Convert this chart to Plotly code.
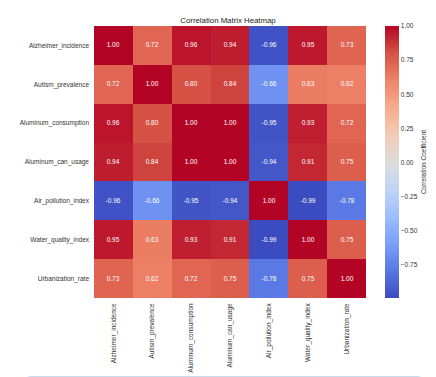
import plotly.graph_objects as go

labels = ["Alzheimer_incidence", "Autism_prevalence", "Aluminum_consumption",
          "Aluminum_can_usage", "Air_pollution_index", "Water_quality_index",
          "Urbanization_rate"]

corr = [
    [1.00, 0.72, 0.96, 0.94, -0.96, 0.95, 0.73],
    [0.72, 1.00, 0.80, 0.84, -0.66, 0.63, 0.62],
    [0.96, 0.80, 1.00, 1.00, -0.95, 0.93, 0.72],
    [0.94, 0.84, 1.00, 1.00, -0.94, 0.91, 0.75],
    [-0.96, -0.66, -0.95, -0.94, 1.00, -0.99, -0.78],
    [0.95, 0.63, 0.93, 0.91, -0.99, 1.00, 0.75],
    [0.73, 0.62, 0.72, 0.75, -0.78, 0.75, 1.00],
]

cbar_ticks = [-0.75, -0.50, -0.25, 0.00, 0.25, 0.50, 0.75, 1.00]
cbar_text = ["\u22120.75", "\u22120.50", "\u22120.25", "0.00", "0.25", "0.50", "0.75", "1.00"]

coolwarm = [
    [0.0, "#3b4cc0"], [0.1, "#5977e3"], [0.2, "#7b9ff9"], [0.3, "#9ebeff"],
    [0.4, "#c0d4f5"], [0.5, "#dddcdc"], [0.6, "#f2cbb7"], [0.7, "#f7ac8e"],
    [0.8, "#ee8468"], [0.9, "#d65244"], [1.0, "#b40426"],
]

FONT = "Liberation Sans, Arial, sans-serif"

fig = go.Figure(go.Heatmap(
    z=corr, x=labels, y=labels,
    zmin=-0.99, zmax=1.0,
    colorscale=coolwarm,
    texttemplate="%{z:.2f}",
    textfont=dict(color="white", size=6.5, family=FONT),
    hoverinfo="skip",
    colorbar=dict(
        x=(377 - 82) / 276, xanchor="left", xpad=0,
        y=0.5, yanchor="middle", len=1, lenmode="fraction", ypad=0,
        thickness=14, outlinewidth=0,
        tickvals=cbar_ticks, ticktext=cbar_text, ticks="",
        tickfont=dict(size=6.5, color="#333333", family=FONT),
        title=dict(text="Correlation Coefficient", side="right",
                   font=dict(size=6.5, color="#333333", family=FONT)),
    ),
))

fig.update_layout(
    width=436, height=377,
    margin=dict(l=82, r=78, t=18, b=82),
    paper_bgcolor="white", plot_bgcolor="white",
    title=dict(text="Correlation Matrix Heatmap", x=(82 + 358) / 2 / 436, xanchor="center",
               y=1 - 12 / 377, yanchor="middle",
               font=dict(size=7.8, color="#222222", family=FONT)),
    xaxis=dict(tickangle=-90, ticks="", showgrid=False, zeroline=False,
               tickfont=dict(size=6.5, color="#333333", family=FONT),
               ticklabelstandoff=3),
    yaxis=dict(autorange="reversed", ticks="", showgrid=False, zeroline=False,
               tickfont=dict(size=6.5, color="#333333", family=FONT),
               ticklabelstandoff=4),
)

# container border at the bottom
x0 = (12 - 82) / 276
x1 = (416 - 82) / 276
yt = (295 - 375) / 277
yb = (295 - 395) / 277
rx = 6 / 276
ry = 6 / 277
path = (f"M {x0},{yb} L {x0},{yt - ry} Q {x0},{yt} {x0 + rx},{yt} "
        f"L {x1 - rx},{yt} Q {x1},{yt} {x1},{yt - ry} L {x1},{yb}")
fig.add_shape(type="path", xref="paper", yref="paper", path=path,
              line=dict(color="#c9dcec", width=1.2), layer="above")

fig.write_html("out.html")
